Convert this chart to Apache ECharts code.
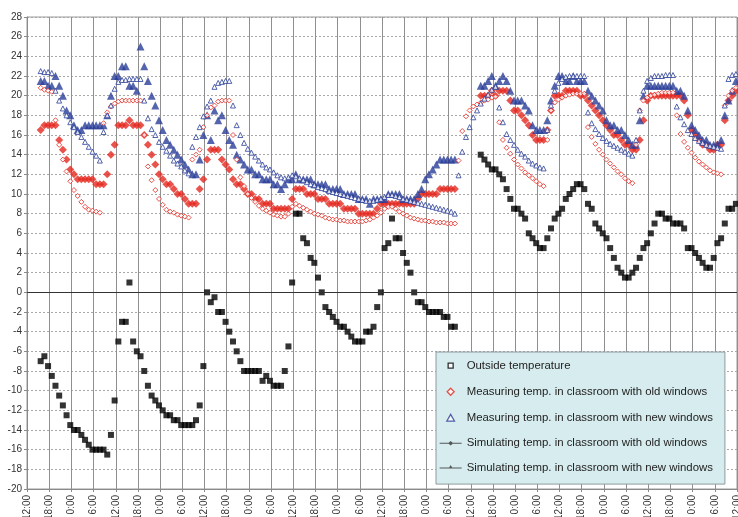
<!DOCTYPE html>
<html>
<head>
<meta charset="utf-8">
<script src="https://cdn.jsdelivr.net/npm/echarts@6/dist/echarts.min.js"></script>
<style>
html,body{margin:0;padding:0;background:#fff;}
#chart{width:738px;height:517px;}
</style>
</head>
<body>
<div id="chart"></div>
<script>
// hourly samples, index 0 = 12:00 on the first day
const tickLabels = ['12:00', '18:00', '0:00', '6:00'];
const sampleOffset = 0.7; // samples taken ~42 min after the full hour

const outsideTemp = [
  null,null,null,-7,-6.5,-7.5,-8.5,-9.5,-10.5,-11.5,-12.5,-13.5,
  -14,-14,-14.5,-15,-15.5,-16,-16,-16,-16,-16.5,-14.5,-11,
  -5,-3,-3,1,-5,-6,-6.5,-8,-9.5,-10.5,-11,-11.5,
  -12,-12.5,-12.5,-13,-13,-13.5,-13.5,-13.5,-13.5,-13,-11.5,-7.5,
  0,-1,-0.5,-2,-2,-3,-4,-5,-6,-7,-8,-8,
  -8,-8,-8,-9,-8.5,-9,-9.5,-9.5,-9.5,-8,-5.5,1,
  8,8,5.5,5,3.5,3,1.5,0,-1.5,-2,-2.5,-3,
  -3.5,-3.5,-4,-4.5,-5,-5,-5,-4,-4,-3.5,-1.5,0,
  4.5,5,7.5,5.5,5.5,4,3,2,0,-1,-1,-1.5,
  -2,-2,-2,-2,-2.5,-2.5,-3.5,-3.5,null,null,null,null,
  null,null,14,13.5,13,12.5,12.5,12,11.5,10.5,9.5,8.5,
  8.5,8,7.5,6,5.5,5,4.5,4.5,5.5,6.5,7.5,8,
  8.5,9.5,10,10.5,11,11,10.5,9,8.5,7,6.5,6,
  5.5,4.5,3.5,2.5,2,1.5,1.5,2,2.5,3.5,4.5,5,
  6,7,8,8,7.5,7.5,7,7,7,6.5,4.5,4.5,
  4,3.5,3,2.5,2.5,3.5,5,5.5,7,8.5,8.5,9
];

const measuredOld = [
  null,null,null,16.5,17,17,17,17,15.5,14.5,13.5,12.5,
  12,11.5,11.5,11.5,11.5,11.5,11,11,11,12,14,15,
  17,17,17,17.5,17,17,17,16,15,14,13,12,
  11.5,11,11,10.5,10,10,9.5,9,9,9,10.5,11.5,
  13.5,14.5,14.5,14.5,13.5,13,12.5,11.5,11,11,10.5,10,
  10,9.5,9.5,9,9,9,8.5,8.5,8.5,8.5,8.5,9.5,
  10.5,10.5,10.5,10,10,10,9.5,9.5,9.5,9,9,9,
  9,8.5,8.5,8.5,8.5,8,8,8,8,8,8.5,9,
  9,9,9,9,9,9,9,9,9,9.5,10,10,
  10,10,10,10.5,10.5,10.5,10.5,10.5,null,null,null,null,
  null,null,20,20,20,20.5,20,20.5,20.5,20.5,19.5,18.5,
  18.5,18,17.5,17,16,15.5,15.5,15.5,16.5,18.5,20,20,
  20,20.5,20.5,20.5,20.5,20,20,19.5,19,18.5,18,17.5,
  17,16.5,16,16,15.5,15,15,14.5,14.5,15.5,17.5,19.5,
  20,20,20,20,20,20,20,20,20,19.5,18,16.5,
  16,15.5,15,15,14.5,14.5,15,15,17.5,19.5,20,20.5
];

const measuredNew = [
  null,null,null,21.5,21.5,21,21,22,21,20,18.5,18,
  17,16.5,16.5,17,17,17,17,17,17,18,20,22,
  22,23,23,21,21,20.5,25,23,21.5,20,19,17.5,
  16.5,15.5,15,14.5,14,13.5,13,12.5,12,12,13.5,16,
  18,15.5,18.5,17.5,18,16.5,15.5,15,14,13.5,13,12.5,
  12.5,12,12,11.5,11.5,11.5,11,11,10.5,11,11.5,11.5,
  12,11.5,11.5,11.5,11.5,11,11,11,11,10.5,10.5,10.5,
  10.5,10,10,10,10,9.5,9.5,9.5,9,9.5,9.5,9.5,
  9.5,10,10,10,10,9.5,9.5,9.5,9.5,10,10.5,11.5,
  12,12.5,13,13.5,13.5,13.5,13.5,13.5,null,null,null,null,
  null,null,21,21,21.5,22,21,21.5,22,21.5,20.5,19.5,
  19.5,19.5,19,18.5,17,16.5,16.5,16.5,17.5,19.5,21,22,
  22,21.5,21.5,22,21.5,21.5,21.5,20.5,20,19.5,19,18.5,
  17.5,17,17,16.5,16.5,16,15.5,15,15,17.5,20,21,
  21,21,21,21,21,21,21,20.5,20.5,20,18.5,17,
  16.5,16,15.5,15.5,15,15,15,15.5,18,19.5,20.5,21.5
];

const simulatedOld = [
  null,null,null,20.8,20.6,20.5,20.4,17.5,15,13.5,12.3,11.3,
  10.4,9.8,9.2,8.7,8.4,8.3,8.2,8.1,17.2,18.3,18.9,19.2,
  19.4,19.5,19.5,19.5,19.5,19.5,19.5,16,12.8,11.4,10.4,9.5,
  8.9,8.4,8.2,8.1,7.9,7.8,7.7,7.6,13.5,14,14.5,16.8,
  18,18.8,19,19.4,19.5,19.5,19.5,16,13.5,11.7,10.8,10,
  9.6,9.2,8.8,8.5,8.3,8.1,7.9,7.8,7.7,7.7,8,8.7,
  9,8.8,8.6,8.4,8.2,8,7.9,7.8,7.6,7.5,7.4,7.4,
  7.3,7.3,7.2,7.2,7.2,7.2,7.2,7.3,7.4,7.6,7.8,8.1,
  8.5,8.7,8.7,8.5,8.2,8,7.8,7.6,7.5,7.4,7.3,7.3,
  7.2,7.2,7.1,7.1,7.1,7,7,7,13.4,16.4,17.9,18.5,
  18.9,19.1,19.3,19.5,19.6,19.8,19.9,17.3,15.5,14.7,14.1,13.5,
  13,12.6,12.2,11.9,11.6,11.3,11,10.8,15.5,18.5,19.3,19.6,
  19.8,20,20.1,20.2,20.2,20.2,20.2,16.8,15.8,15.1,14.5,14,
  13.5,13.1,12.7,12.3,12,11.6,11.3,11.1,15,18.5,19.5,19.8,
  20,20.1,20.2,20.3,20.3,20.3,20.3,18,16.1,15.3,14.7,14.2,
  13.7,13.3,13,12.7,12.4,12.2,12.1,12,19,20,20.5,20.8
];

const simulatedNew = [
  null,null,null,22.5,22.4,22.4,22.3,20.5,19.5,18.7,18,17.3,
  16.8,16.3,15.8,15.3,14.8,14.3,13.9,13.4,16.3,18,19,20.7,
  21.4,21.6,21.6,21.7,21.7,21.7,21.7,19.5,17.7,16.6,16,15.3,
  14.8,14.4,13.9,13.4,13.1,12.8,12.4,12.1,14.8,15.8,16.8,17.9,
  18.9,19.5,20.9,21.3,21.4,21.5,21.5,19,17,16,15.2,14.6,
  14.2,13.8,13.4,13,12.7,12.5,12.2,11.9,11.7,11.6,11.7,11.9,
  11.8,11.6,11.4,11.2,11,10.9,10.7,10.6,10.5,10.3,10.2,10.1,
  10,9.9,9.8,9.7,9.6,9.5,9.4,9.3,9.3,9.3,9.4,9.5,
  9.7,9.9,9.9,9.8,9.7,9.5,9.4,9.3,9.2,9.1,9,8.9,
  8.8,8.7,8.6,8.5,8.4,8.3,8.2,8,11.9,14.3,15.8,16.8,
  17.8,18.5,19.2,19.7,20.1,20.6,20.9,18.8,17.3,16.1,15.5,15,
  14.5,14.1,13.8,13.4,13.1,12.9,12.7,12.6,16.5,19,20.5,21.3,
  21.7,21.9,22,22,22,22,22,18.3,17.2,16.6,16.1,15.7,
  15.4,15.1,14.9,14.7,14.5,14.3,14.1,13.9,15.5,18.5,20.5,21.5,
  21.8,22,22,22,22.1,22.1,22.1,18.9,17.8,17.1,16.5,16.1,
  15.7,15.4,15.2,15,14.9,14.8,14.7,14.6,19,21.7,22.1,22.2
];

const seriesNames = [
  'Outside temperature',
  'Measuring temp. in classroom with old windows',
  'Measuring temp. in classroom with new windows',
  'Simulating temp. in classroom with old windows',
  'Simulating temp. in classroom with new windows'
];

function toPoints(arr) {
  const out = [];
  arr.forEach((v, i) => { if (v !== null) out.push([i + sampleOffset, v]); });
  return out;
}

const RED = '#e3281f';
const BLUE = '#293d98';
const FONT = "'Liberation Sans', Arial, sans-serif";

const chart = echarts.init(document.getElementById('chart'), null, {renderer: 'canvas'});
chart.setOption({
  animation: false,
  backgroundColor: '#ffffff',
  textStyle: {fontFamily: FONT},
  grid: {
    left: 27, right: 1, top: 17, bottom: 28,
    containLabel: false, outerBoundsMode: 'none',
    show: true, borderColor: '#9a9a9a', borderWidth: 1
  },
  xAxis: {
    type: 'value', min: 0, max: 192, interval: 6,
    axisLine: {show: true, onZero: false, lineStyle: {color: '#8a8a8a'}},
    axisTick: {show: true, length: 3, lineStyle: {color: '#8a8a8a'}},
    splitLine: {show: true, lineStyle: {color: '#8f8f8f', width: 1}},
    axisLabel: {
      rotate: 90, fontSize: 10, color: '#333', margin: 6, fontFamily: FONT,
      showMaxLabel: true,
      formatter: v => tickLabels[Math.round(v / 6) % 4]
    }
  },
  yAxis: {
    type: 'value', min: -20, max: 28, interval: 2,
    axisLine: {show: true, lineStyle: {color: '#8a8a8a'}},
    axisTick: {show: true, length: 3, lineStyle: {color: '#8a8a8a'}},
    splitLine: {show: true, lineStyle: {color: '#a8a8a8', type: [2, 2], width: 1}},
    axisLabel: {fontSize: 10, color: '#333', margin: 5, fontFamily: FONT}
  },
  legend: {
    orient: 'vertical', left: 436, top: 352,
    padding: [7, 12, 10, 3],
    backgroundColor: '#d7ecee', borderColor: '#8f9a9c', borderWidth: 1,
    itemWidth: 22, itemHeight: 12, itemGap: 12.8,
    selectedMode: false,
    textStyle: {fontSize: 11.4, color: '#222', fontFamily: FONT},
    data: [
      {name: seriesNames[0], icon: 'path://M0,0M22,12M8.5,3.5h5v5h-5z',
       itemStyle: {color: '#ffffff', borderColor: '#000', borderWidth: 1.3}},
      {name: seriesNames[1], icon: 'path://M0,0M22,12M11,2.5L14.5,6L11,9.5L7.5,6Z',
       itemStyle: {color: '#ffffff', borderColor: RED, borderWidth: 1.3}},
      {name: seriesNames[2], icon: 'path://M0,0M22,12M11,2.5L14.8,9.2L7.2,9.2Z',
       itemStyle: {color: '#ffffff', borderColor: BLUE, borderWidth: 1.3}},
      {name: seriesNames[3], icon: 'path://M0,0M22,12M0,5.5H9L11,3.8L13,5.5H22V6.5H13L11,8.2L9,6.5H0Z',
       itemStyle: {color: '#333', borderWidth: 0}},
      {name: seriesNames[4], icon: 'path://M0,0M22,12M0,5.5H9.5L11,3L12.5,5.5H22V6.5H0Z',
       itemStyle: {color: '#333', borderWidth: 0}}
    ]
  },
  series: [
    {
      name: seriesNames[0], type: 'scatter', symbol: 'rect', symbolSize: 6,
      itemStyle: {color: '#000'}, data: toPoints(outsideTemp), z: 3,
      markLine: {
        silent: true, symbol: 'none', label: {show: false},
        lineStyle: {color: '#333', type: 'solid', width: 1},
        data: [{yAxis: 0}]
      }
    },
    {
      name: seriesNames[1], type: 'scatter', symbol: 'diamond', symbolSize: 8,
      itemStyle: {color: RED}, data: toPoints(measuredOld), z: 3
    },
    {
      name: seriesNames[2], type: 'scatter', symbol: 'triangle', symbolSize: 8,
      itemStyle: {color: BLUE}, data: toPoints(measuredNew), z: 3
    },
    {
      name: seriesNames[3], type: 'scatter', symbol: 'diamond', symbolSize: 5,
      itemStyle: {color: '#ffffff', borderColor: RED, borderWidth: 1}, data: toPoints(simulatedOld), z: 4
    },
    {
      name: seriesNames[4], type: 'scatter', symbol: 'triangle', symbolSize: 5,
      itemStyle: {color: '#ffffff', borderColor: BLUE, borderWidth: 1}, data: toPoints(simulatedNew), z: 4
    }
  ]
});
</script>
</body>
</html>
